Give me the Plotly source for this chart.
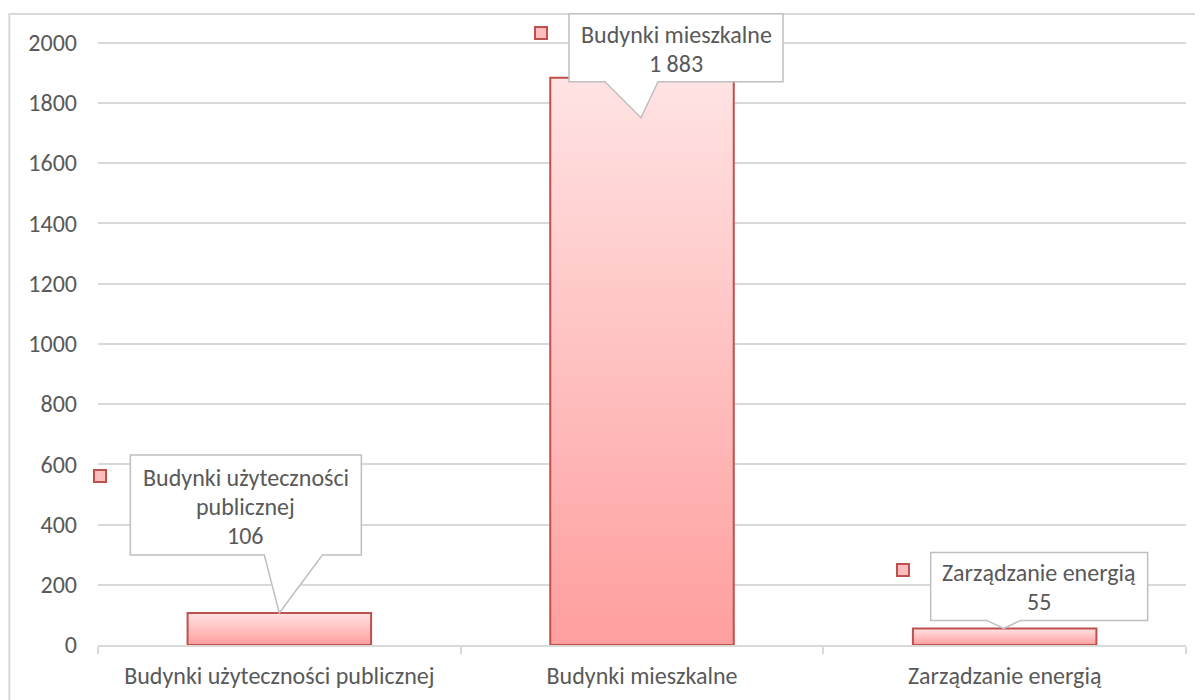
import plotly.graph_objects as go

categories = ["Budynki użyteczności publicznej", "Budynki mieszkalne", "Zarządzanie energią"]
values = [106, 1883, 55]
callout_lines = [["Budynki użyteczności", "publicznej"], ["Budynki mieszkalne"], ["Zarządzanie energią"]]
y_ticks = [0, 200, 400, 600, 800, 1000, 1200, 1400, 1600, 1800, 2000]

FONT = "Carlito, Calibri, Lato, sans-serif"
TXT = "#595959"
GRID = "#D9D9D9"
BORDER = "#C0504D"
HALF = 0.253
LINE_H = 29

# callout geometry (pixels relative to the bar top anchor): box l, r, top, bottom, wedge base l, r, tip y
callout_geom = [
    dict(l=-149, r=82, t=158, b=58, wl=-15, wr=43, tip=0, key=(-179, 137), dx=0),
    dict(l=-73, r=141, t=64, b=-4, wl=-37, wr=16, tip=-40, key=(-101, 45), dx=-1),
    dict(l=-74, r=143, t=76, b=8, wl=-18, wr=16, tip=0, key=(-102, 58), dx=-1),
]

fig = go.Figure()

for i, (cat, v) in enumerate(zip(categories, values)):
    xs = [i - HALF, i - HALF, i + HALF, i + HALF, i - HALF]
    ys = [0, v, v, 0, 0]
    fig.add_trace(go.Scatter(
        x=xs, y=ys, mode="lines", fill="toself",
        line=dict(color=BORDER, width=2),
        fillgradient=dict(type="vertical", start=0, stop=v,
                          colorscale=[[0, "#FF9E9E"], [1, "#FFE3E3"]]),
        name=cat, showlegend=False, hoverinfo="skip",
    ))

shapes = []
annotations = []
for i, (v, lines, g) in enumerate(zip(values, callout_lines, callout_geom)):
    path = (f"M {g['l']},{g['t']} L {g['r']},{g['t']} L {g['r']},{g['b']} "
            f"L {g['wr']},{g['b']} L {g['dx']},{g['tip']} L {g['wl']},{g['b']} "
            f"L {g['l']},{g['b']} Z")
    shapes.append(dict(
        type="path", xref="x", yref="y", xsizemode="pixel", ysizemode="pixel",
        xanchor=i, yanchor=v, path=path,
        fillcolor="white", line=dict(color="#BFBFBF", width=1.5), layer="above",
    ))
    label = f"{v:,}".replace(",", " ")
    all_lines = lines + [label]
    n = len(all_lines)
    cy = (g['t'] + g['b']) / 2 - 1
    cx = (g['l'] + g['r']) / 2
    for k, ln in enumerate(all_lines):
        annotations.append(dict(
            x=i, y=v, xref="x", yref="y", showarrow=False,
            xshift=cx, yshift=cy + ((n - 1) / 2 - k) * LINE_H,
            text=ln, align="center",
            font=dict(family=FONT, size=24, color=TXT),
        ))
    annotations.append(dict(
        x=i, y=v, xref="x", yref="y", showarrow=False,
        xshift=g['key'][0], yshift=g['key'][1],
        text="", width=10, height=10, bgcolor="#FFBDBD",
        bordercolor=BORDER, borderwidth=2, borderpad=0,
    ))

# outer chart border
shapes.append(dict(type="rect", xref="paper", yref="paper",
                   x0=-0.0815, x1=1.05, y0=-0.2, y1=0.9985,
                   line=dict(color=GRID, width=2), fillcolor="rgba(0,0,0,0)", layer="below"))

fig.update_layout(
    width=1195, height=692,
    margin=dict(l=90, r=17, t=5, b=55),
    paper_bgcolor="white", plot_bgcolor="white",
    shapes=shapes, annotations=annotations,
    font=dict(family=FONT, size=24, color=TXT),
    showlegend=False,
)
fig.update_xaxes(
    range=[-0.5, 2.5], tickmode="array", tickvals=list(range(len(categories))),
    ticktext=categories, ticks="", showgrid=False, zeroline=False,
    showline=True, linecolor=GRID, linewidth=1.5,
    minor=dict(tickmode="array", tickvals=[-0.5, 0.5, 1.5, 2.5], ticks="outside",
               ticklen=7, tickwidth=1.5, tickcolor=GRID, showgrid=False),
    tickfont=dict(family=FONT, size=24, color=TXT), ticklabelstandoff=8,
    fixedrange=True, automargin=False,
)
fig.update_yaxes(
    range=[0, 2098], tickmode="array", tickvals=y_ticks,
    showgrid=True, gridcolor=GRID, gridwidth=1.5, zeroline=False,
    ticks="", showline=False, ticklabelstandoff=20,
    tickfont=dict(family=FONT, size=24, color=TXT), automargin=False,
)

fig.write_html("out.html")
